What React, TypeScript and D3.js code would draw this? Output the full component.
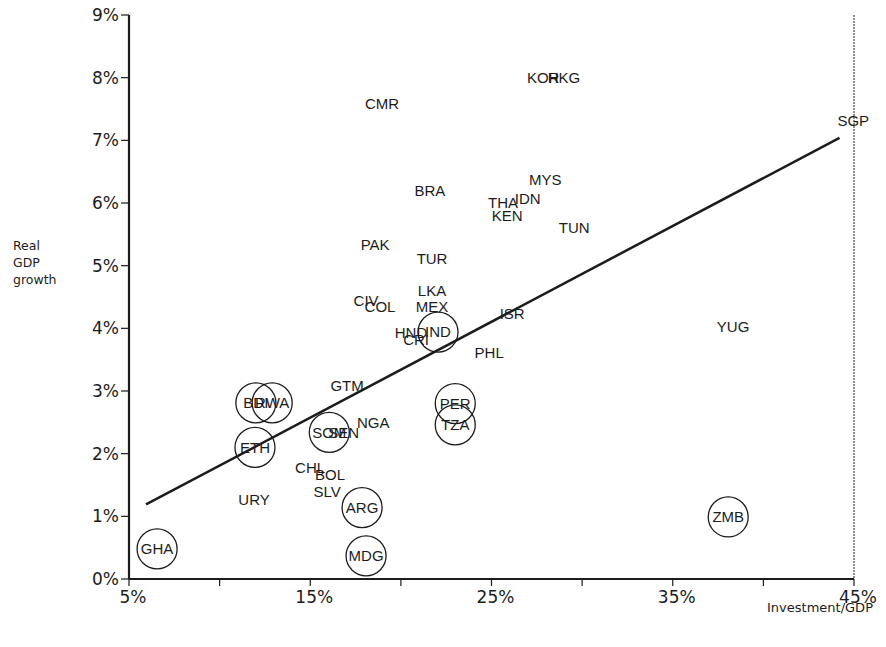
import React from "react";
import * as d3 from "d3";

const countries = ["KOR","HKG","CMR","SGP","MYS","BRA","IDN","THA","KEN","TUN","PAK","TUR","LKA","MEX","CIV","COL","ISR","HND","IND","CRI","YUG","PHL","GTM","BDI","RWA","PER","TZA","NGA","SOM","SEN","ETH","CHL","BOL","SLV","URY","ARG","ZMB","GHA","MDG"];
const investment = [27.85,29.0,18.96,44.96,27.96,21.6,27.0,25.64,25.86,29.56,18.58,21.72,21.72,21.72,18.08,18.85,26.14,20.56,22.05,20.84,38.33,24.87,17.03,12.0,12.9,23.0,23.0,18.47,16.05,16.85,11.95,14.99,16.09,15.93,11.9,17.86,38.06,6.55,18.08];
const growth = [8.0,8.0,7.58,7.31,6.38,6.2,6.07,6.0,5.8,5.6,5.34,5.12,4.61,4.34,4.45,4.34,4.23,3.93,3.94,3.82,4.02,3.62,3.08,2.81,2.81,2.8,2.46,2.5,2.34,2.34,2.1,1.78,1.67,1.4,1.27,1.14,0.99,0.48,0.37];
const circled = ["IND","BDI","RWA","PER","TZA","SOM","ETH","ARG","ZMB","GHA","MDG"];
const fitX = [5.94, 44.2];
const fitY = [1.19, 7.04];
const xTicks = [5,10,15,20,25,30,35,40,45];
const xTickLabels = ["5%","","15%","","25%","","35%","","45%"];
const yTicks = [0,1,2,3,4,5,6,7,8,9];
const yTickLabels = ["0%","1%","2%","3%","4%","5%","6%","7%","8%","9%"];

export default function App() {
  const W = 886, H = 647;
  const x = d3.scaleLinear().domain([5, 45]).range([129, 854]);
  const y = d3.scaleLinear().domain([0, 9]).range([579, 15]);
  const line = d3.line<number>().x((_, i) => x(fitX[i])).y((_, i) => y(fitY[i]));
  const ink = "#1c1c1c";
  return (
    <svg width={W} height={H} style={{ position: "absolute", left: 0, top: 0, background: "#fff" }}>
      {/* axes */}
      <line x1={x(5)} x2={x(5)} y1={y(9)} y2={y(0)} stroke={ink} strokeWidth={2.2} />
      <line x1={x(5)} x2={x(45)} y1={y(0)} y2={y(0)} stroke={ink} strokeWidth={2.2} />
      <line x1={x(45)} x2={x(45)} y1={y(9)} y2={y(0)} stroke={ink} strokeWidth={1} strokeDasharray="2,1" />
      {yTicks.map((t, i) => (
        <g key={"y" + t}>
          <line x1={x(5) - 8} x2={x(5)} y1={y(t)} y2={y(t)} stroke={ink} strokeWidth={1.2} />
          <text x={x(5) - 10} y={y(t)} dy="0.36em" textAnchor="end" fontFamily="DejaVu Sans" fontSize={17} fill={ink}>{yTickLabels[i]}</text>
        </g>
      ))}
      {xTicks.map((t, i) => (
        <g key={"x" + t}>
          <line x1={x(t)} x2={x(t)} y1={y(0)} y2={y(0) + 7} stroke={ink} strokeWidth={1.2} />
          <text x={x(t) + 4} y={y(0) + 24} textAnchor="middle" fontFamily="DejaVu Sans" fontSize={17} fill={ink}>{xTickLabels[i]}</text>
        </g>
      ))}
      <text fontFamily="DejaVu Sans" fontSize={12.5} fill={ink}>
        <tspan x={13} y={250}>Real</tspan>
        <tspan x={13} y={267}>GDP</tspan>
        <tspan x={13} y={284}>growth</tspan>
      </text>
      <text x={820} y={612} textAnchor="middle" fontFamily="DejaVu Sans" fontSize={13} fill={ink}>Investment/GDP</text>
      {/* fit line */}
      <path d={line(fitX) || ""} fill="none" stroke={ink} strokeWidth={2.5} />
      {/* points */}
      {countries.map((c, i) => (
        <g key={c}>
          {circled.includes(c) && (
            <circle cx={x(investment[i])} cy={y(growth[i])} r={20} fill="none" stroke={ink} strokeWidth={1.3} />
          )}
          <text x={x(investment[i])} y={y(growth[i])} dy="0.36em" textAnchor="middle" fontFamily="Liberation Sans" fontSize={15} fill={ink}>{c}</text>
        </g>
      ))}
    </svg>
  );
}
